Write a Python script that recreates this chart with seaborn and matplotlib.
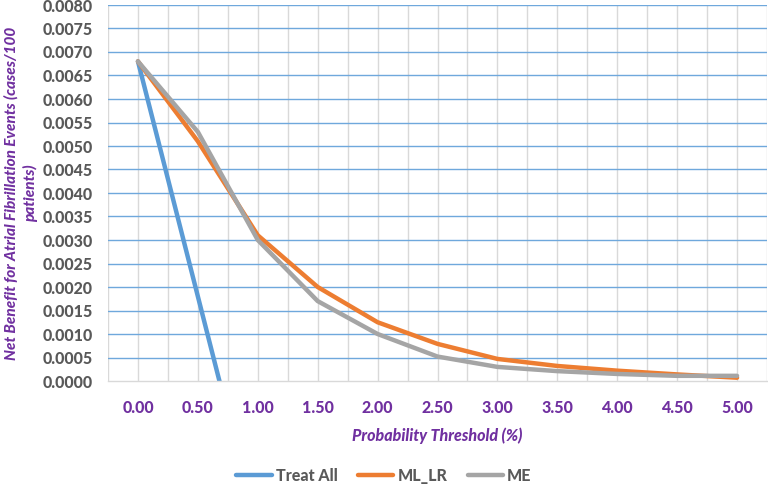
import matplotlib
matplotlib.use("Agg")
import matplotlib.pyplot as plt
import seaborn as sns
import pandas as pd
import numpy as np
from matplotlib.lines import Line2D

thresholds = [0.0, 0.5, 1.0, 1.5, 2.0, 2.5, 3.0, 3.5, 4.0, 4.5, 5.0]
tick_labels = ["0.00", "0.50", "1.00", "1.50", "2.00", "2.50", "3.00", "3.50", "4.00", "4.50", "5.00"]
treat_all_x = [0.0, 0.5, 1.0]
treat_all = [0.0068, 0.0018, -0.0032]
ml_lr = [0.0068, 0.0051, 0.0031, 0.0020, 0.00125, 0.00079, 0.00047, 0.00032, 0.00022, 0.00014, 0.00007]
me = [0.0068, 0.0053, 0.0030, 0.0017, 0.00100, 0.00052, 0.00030, 0.00021, 0.00015, 0.00011, 0.00011]
series_names = ["Treat All", "ML_LR", "ME"]
colors = ["#5B9BD5", "#ED7D31", "#A5A5A5"]
y_ticks = [i * 0.0005 for i in range(17)]

df = pd.concat([
    pd.DataFrame({"x": treat_all_x, "y": treat_all, "s": "Treat All"}),
    pd.DataFrame({"x": thresholds, "y": ml_lr, "s": "ML_LR"}),
    pd.DataFrame({"x": thresholds, "y": me, "s": "ME"}),
])

sns.set_theme(style="white")
plt.rcParams["font.family"] = ["Lato", "DejaVu Sans"]

purple = "#7030A0"
gray_txt = "#595959"
W = "black"

fig = plt.figure(figsize=(7.68, 4.86), dpi=100)
ax = fig.add_axes([108 / 768, 1 - 381 / 486, 659 / 768, 376 / 486])

sns.lineplot(data=df, x="x", y="y", hue="s", hue_order=series_names,
             palette=colors, sort=False, linewidth=3.2, ax=ax, legend=False,
             estimator=None)

ax.set_xlim(-0.25, 5.25)
ax.set_ylim(0, 0.008)
ax.set_xticks(thresholds)
ax.set_xticklabels(tick_labels)
ax.set_yticks(y_ticks)
ax.set_yticklabels([f"{v:.4f}" for v in y_ticks])

ax.grid(False)
for xv in np.arange(-0.25, 5.26, 0.25):
    ax.axvline(xv, color="#D9D9D9", lw=1.0, zorder=0)
for yv in y_ticks[1:]:
    ax.axhline(yv, color="#6FA8DC", lw=1.0, zorder=0.5)

for s in ["top", "right", "left"]:
    ax.spines[s].set_visible(False)
ax.spines["bottom"].set_color("#D9D9D9")
ax.spines["bottom"].set_linewidth(1.0)

ax.tick_params(axis="both", which="both", length=0)
ax.tick_params(axis="y", pad=11, labelsize=11.5, labelcolor=gray_txt)
ax.tick_params(axis="x", pad=14, labelsize=11.5, labelcolor=purple)
for t in ax.get_yticklabels():
    t.set_fontweight(W)
for t in ax.get_xticklabels():
    t.set_fontweight(W)

ax.set_xlabel("Probability Threshold (%)", color=purple, fontsize=11.5,
              fontweight=W, fontstyle="italic", labelpad=8)
ax.set_ylabel("Net Benefit for Atrial Fibrillation Events (cases/100\npatients)",
              color=purple, fontsize=11, fontweight=W, fontstyle="italic",
              linespacing=1.4, multialignment="center")
ax.yaxis.set_label_coords(-0.106, 0.5)

handles = [Line2D([0], [0], color=c, lw=3.2) for c in colors]
leg = fig.legend(handles, series_names, loc="center", bbox_to_anchor=(0.5, 1 - 476 / 486),
                 ncol=3, frameon=False, handlelength=2.2, columnspacing=1.3,
                 handletextpad=0.25, prop={"size": 11.5, "weight": W})
for t in leg.get_texts():
    t.set_color(gray_txt)

fig.savefig("out.png", dpi=100)
